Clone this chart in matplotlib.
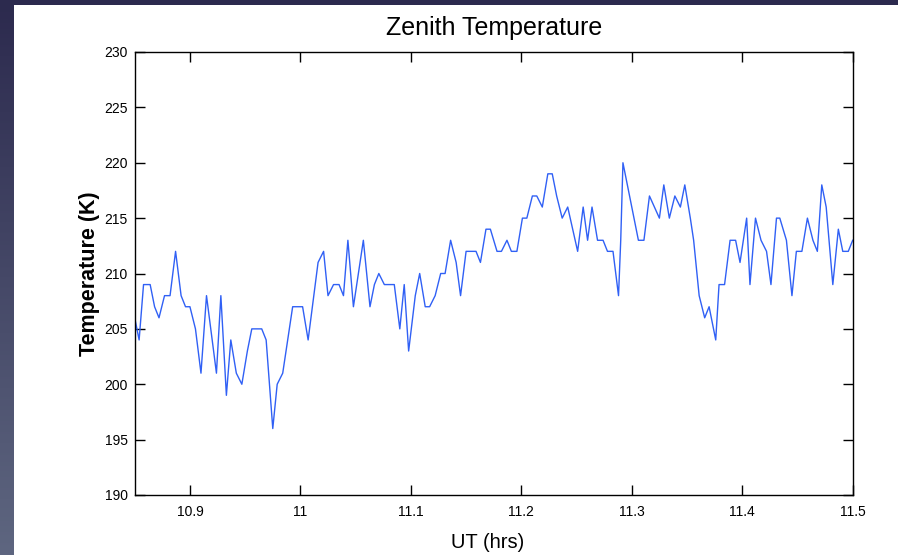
import matplotlib.pyplot as plt
import numpy as np
from matplotlib.patches import Rectangle

# UT (hrs) and zenith temperature (K)
ut = [10.850, 10.852, 10.854, 10.858, 10.864, 10.868, 10.872, 10.877, 10.882, 10.887,
      10.892, 10.896, 10.900, 10.905, 10.910, 10.915, 10.924, 10.928, 10.933, 10.937,
      10.942, 10.947, 10.952, 10.956, 10.965, 10.969, 10.975, 10.979, 10.984, 10.993,
      11.002, 11.007, 11.016, 11.021, 11.025, 11.030, 11.035, 11.039, 11.043, 11.048,
      11.057, 11.063, 11.067, 11.071, 11.076, 11.085, 11.090, 11.094, 11.098, 11.104,
      11.108, 11.113, 11.117, 11.122, 11.127, 11.131, 11.136, 11.141, 11.145, 11.150,
      11.159, 11.163, 11.168, 11.172, 11.178, 11.182, 11.187, 11.191, 11.196, 11.201,
      11.205, 11.210, 11.214, 11.219, 11.224, 11.228, 11.232, 11.237, 11.242, 11.251,
      11.256, 11.260, 11.264, 11.269, 11.274, 11.278, 11.283, 11.288, 11.290, 11.292,
      11.306, 11.311, 11.316, 11.325, 11.329, 11.334, 11.339, 11.344, 11.348, 11.353,
      11.356, 11.361, 11.366, 11.370, 11.376, 11.379, 11.384, 11.389, 11.394, 11.398,
      11.404, 11.407, 11.412, 11.417, 11.422, 11.426, 11.431, 11.434, 11.440, 11.445,
      11.449, 11.454, 11.459, 11.464, 11.468, 11.472, 11.476, 11.482, 11.487, 11.491,
      11.496, 11.500]
temp = [206, 205, 204, 209, 209, 207, 206, 208, 208, 212,
        208, 207, 207, 205, 201, 208, 201, 208, 199, 204,
        201, 200, 203, 205, 205, 204, 196, 200, 201, 207,
        207, 204, 211, 212, 208, 209, 209, 208, 213, 207,
        213, 207, 209, 210, 209, 209, 205, 209, 203, 208,
        210, 207, 207, 208, 210, 210, 213, 211, 208, 212,
        212, 211, 214, 214, 212, 212, 213, 212, 212, 215,
        215, 217, 217, 216, 219, 219, 217, 215, 216, 212,
        216, 213, 216, 213, 213, 212, 212, 208, 213, 220,
        213, 213, 217, 215, 218, 215, 217, 216, 218, 215,
        213, 208, 206, 207, 204, 209, 209, 213, 213, 211,
        215, 209, 215, 213, 212, 209, 215, 215, 213, 208,
        212, 212, 215, 213, 212, 218, 216, 209, 214, 212,
        212, 213]

xticks = [10.9, 11.0, 11.1, 11.2, 11.3, 11.4, 11.5]
xlabels = ['10.9', '11', '11.1', '11.2', '11.3', '11.4', '11.5']
yticks = [190, 195, 200, 205, 210, 215, 220, 225, 230]

plt.rcParams['font.family'] = ['Liberation Sans', 'DejaVu Sans']

fig = plt.figure(figsize=(8.98, 5.55), dpi=100, facecolor='white')

# slide background: dark band on top and gradient strip on the left
side = fig.add_axes([0, 0, 14/898, 1])
grad = np.linspace(0, 1, 256).reshape(-1, 1)
c_top = np.array([0x2c, 0x2a, 0x4e]) / 255
c_bot = np.array([0x5e, 0x66, 0x80]) / 255
img = c_top + grad[:, :, None] * (c_bot - c_top)
side.imshow(img, aspect='auto', extent=[0, 1, 0, 1])
side.set_axis_off()
fig.patches.append(Rectangle((0, 1 - 5/555), 1, 5/555, transform=fig.transFigure,
                             facecolor='#2c2a4e', edgecolor='none', zorder=0))

ax = fig.add_axes([134.7/898, 60/555, 718/898, 443/555])
ax.plot(ut, temp, color='#3060f5', linewidth=1.0)

ax.set_xlim(10.85, 11.5)
ax.set_ylim(190, 230)
ax.set_xticks(xticks)
ax.set_xticklabels(xlabels)
ax.set_yticks(yticks)
ax.tick_params(direction='in', length=7, width=1, top=True, right=True,
               labelsize=10, colors='black')
ax.tick_params(axis='x', pad=7)
ax.tick_params(axis='y', pad=5)
for s in ax.spines.values():
    s.set_linewidth(1.0)

ax.set_title('Zenith Temperature', fontsize=18, pad=12)
ax.set_xlabel('UT (hrs)', fontsize=14.5, labelpad=9)
ax.xaxis.set_label_coords((487.5 - 134.7) / 718, -0.085)
ax.set_ylabel('Temperature (K)', fontsize=15.5, fontweight='bold', labelpad=3)

fig.savefig('out.png', dpi=100, facecolor='white')
